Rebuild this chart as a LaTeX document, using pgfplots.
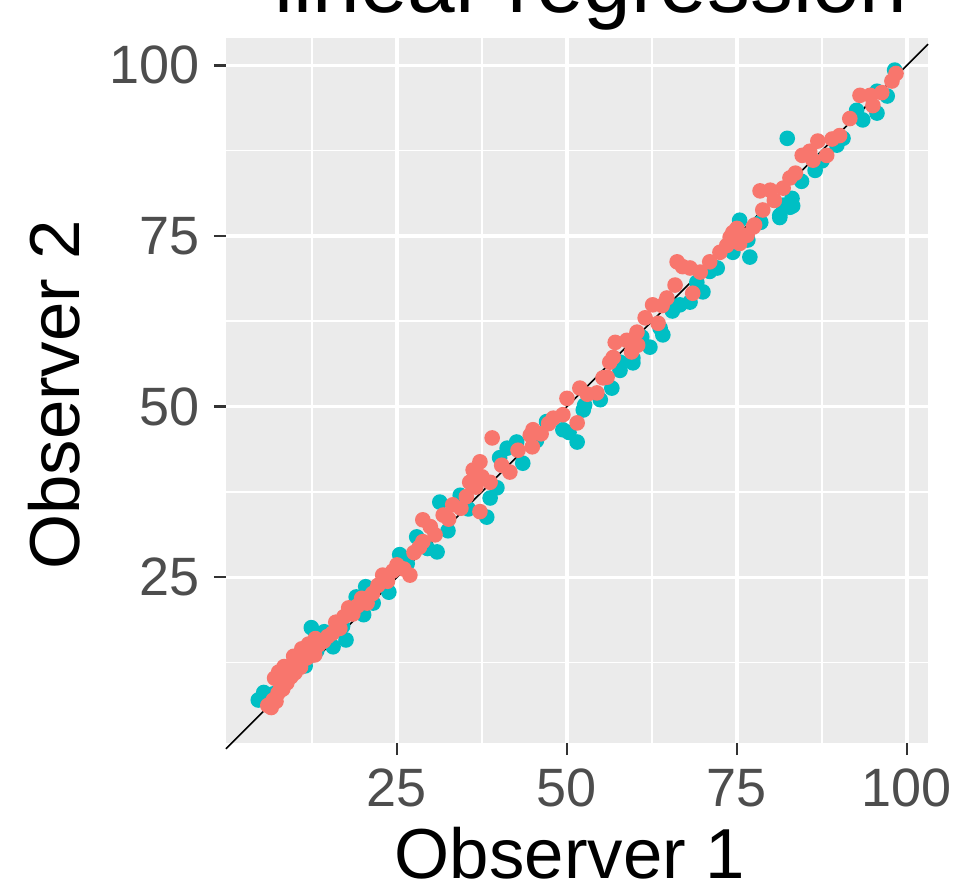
\documentclass[border=0pt]{standalone}
\usepackage{fontspec}
\setmainfont{Liberation Sans}
\usepackage{pgfplots}
\pgfplotsset{compat=1.18}
\definecolor{ggred}{HTML}{F8766D}
\definecolor{ggcyan}{HTML}{00BFC4}
\definecolor{panelgray}{HTML}{EBEBEB}
\definecolor{ticklab}{HTML}{4D4D4D}
\definecolor{tickmark}{HTML}{333333}

\begin{document}
\begin{tikzpicture}
\begin{axis}[
  at={(0,0)}, anchor=south west,
  scale only axis,
  width=175.5pt, height=176.25pt,
  xmin=-0.15, xmax=103.1, ymin=0.7, ymax=104,
  clip=false,
  axis background/.style={fill=panelgray},
  axis line style={draw=none},
  xtick={25,50,75,100}, ytick={25,50,75,100},
  minor xtick={12.5,37.5,62.5,87.5}, minor ytick={12.5,37.5,62.5,87.5},
  grid=both,
  major grid style={white, line width=0.8pt},
  minor grid style={white, line width=0.4pt},
  tick align=outside, tick pos=left,
  major tick length=3pt, minor tick length=0pt,
  major tick style={tickmark, line width=0.6pt},
  tick label style={font=\fontsize{13.5}{16}\selectfont, text=ticklab},
  /pgf/number format/assume math mode=true,
  xlabel={Observer 1},
  xlabel style={at={(axis description cs:0.49,-0.1915)}, anchor=base,
    font=\fontsize{17.7}{21}\selectfont},
  ylabel={Observer 2},
  ylabel style={at={(axis description cs:-0.208,0.494)}, anchor=base,
    font=\fontsize{17.7}{21}\selectfont},
  title={linear regression},
  title style={at={(axis description cs:0.52,1.0355)}, anchor=base, yshift=-6pt,
    font=\fontsize{21.4}{25}\selectfont},
]
% second observer group (cyan)
\addplot[only marks, color=ggcyan, mark=*, mark size=1.75pt, mark options={draw=none, fill=ggcyan}]
coordinates {
(4.6,7.0) (5.4,8.1) (6.8,7.9) (8.0,9.0) (9.5,10.8) (10.9,13.9) (11.5,12.0)
(12.4,17.6) (13.2,14.2) (14.3,17.0) (15.6,14.8) (17.0,17.8) (17.5,15.8)
(19.0,22.1) (20.1,19.5) (20.4,23.6) (21.5,21.2) (23.8,22.8) (25.4,28.3)
(26.5,27.0) (27.9,30.9) (29.5,29.2) (30.9,28.7) (31.3,36.0) (32.5,31.8)
(34.3,37.0) (35.5,35.0) (38.2,33.8) (38.7,36.6) (39.7,38.1) (40.1,42.5)
(41.2,43.9) (42.6,44.8) (43.5,41.7) (45.5,45.0) (47.0,47.8) (49.4,46.6)
(50.3,46.2) (51.5,44.8) (52.4,49.5) (52.6,50.2) (54.9,51.0) (56.6,52.7)
(57.8,55.3) (57.8,56.5) (59.7,56.4) (59.7,57.1) (61.0,60.2) (62.2,58.7)
(63.7,61.5) (64.1,60.5) (65.5,64.0) (66.6,64.9) (68.1,65.3) (69.1,68.2)
(70.0,66.8) (71.0,69.8) (72.1,70.3) (74.4,72.6) (75.4,77.3) (76.6,74.4)
(76.9,71.9) (78.5,77.0) (81.3,78.0) (81.3,77.7) (81.8,79.5) (82.4,89.3)
(82.8,79.2) (83.2,79.4) (83.1,80.5) (84.5,83.0) (86.5,84.6) (87.5,86.0)
(89.7,88.3) (90.6,89.3) (92.6,93.4) (93.5,92.0) (95.6,93.0) (95.6,96.2)
(97.1,95.5) (98.2,99.3)
};
% first group (red)
\addplot[only marks, color=ggred, mark=*, mark size=1.75pt, mark options={draw=none, fill=ggred}]
coordinates {
(6.0,6.2) (6.5,5.9) (6.8,7.0) (7.2,6.8) (7.5,8.0) (7.6,11.1) (7.9,9.2)
(7.0,10.2) (8.4,11.9) (9.8,13.4) (11.0,14.5) (12.0,15.2) (13.0,16.0)
(8.2,8.6) (8.5,10.2) (8.8,9.5) (9.0,11.3) (9.4,10.4) (9.7,12.2) (10.0,11.0)
(10.4,12.4) (10.8,11.8) (11.2,12.9) (11.8,13.2) (12.3,14.0) (12.9,13.6)
(13.5,15.1) (14.2,15.6) (14.8,16.3) (15.5,16.8) (16.0,18.4) (16.6,17.5)
(17.2,19.2) (17.9,20.5) (18.5,19.6) (19.2,20.8) (19.8,21.9) (20.6,21.2)
(21.4,22.6) (22.2,23.8) (22.9,25.3) (23.6,24.4) (24.4,25.9) (25.0,26.8)
(25.3,26.4) (26.0,26.2) (26.9,25.3) (27.5,28.6) (28.3,29.4) (28.8,30.2)
(28.8,33.4) (29.9,32.4) (30.6,31.2) (31.8,34.1) (32.6,33.5) (33.2,35.6)
(34.4,35.1) (35.2,36.8) (35.7,38.9) (36.2,40.7) (36.6,38.2) (37.2,41.9)
(37.5,39.7) (37.2,34.6) (38.7,38.9) (39.0,45.4) (40.4,41.4) (41.6,40.4)
(42.8,43.6) (44.6,45.8) (44.9,44.1) (45.0,46.6) (46.2,46.0) (47.3,47.5)
(48.0,48.3) (49.4,48.8) (50.0,51.2) (51.5,47.6) (51.9,52.7) (53.0,51.8)
(54.4,52.0) (55.3,54.2) (55.9,54.3) (56.3,56.5) (56.8,57.2) (57.1,59.4)
(58.8,59.7) (59.5,58.0) (60.3,60.9) (60.4,59.0) (61.5,63.0) (62.6,64.9)
(63.4,62.2) (64.0,64.8) (64.7,65.9) (65.9,67.8) (66.2,71.2) (67.0,70.5)
(68.1,70.3) (68.5,66.6) (69.6,69.7) (71.0,71.2) (72.5,72.6) (73.5,73.6)
(74.0,74.8) (74.4,75.5) (75.0,76.1) (75.4,73.9) (76.5,75.1) (77.4,76.3)
(77.6,76.6) (78.4,81.6) (78.8,78.8) (79.9,81.7) (80.5,80.2) (81.8,82.0)
(82.8,83.5) (83.6,84.2) (84.6,86.8) (85.7,87.4) (86.2,86.1) (86.9,88.9)
(88.2,86.8) (89.0,89.2) (90.1,89.7) (91.6,92.2) (93.1,95.6) (94.6,95.6)
(95.0,94.1) (96.3,96.0) (97.8,97.7) (98.4,98.8)
};
% identity line
\addplot[black, line width=0.4pt] coordinates {(-0.15,-0.15) (103.1,103.1)};
\end{axis}
\pgfresetboundingbox
\useasboundingbox (-56.5pt,-37pt) rectangle (182.25pt,185.75pt);
\end{tikzpicture}
\end{document}
